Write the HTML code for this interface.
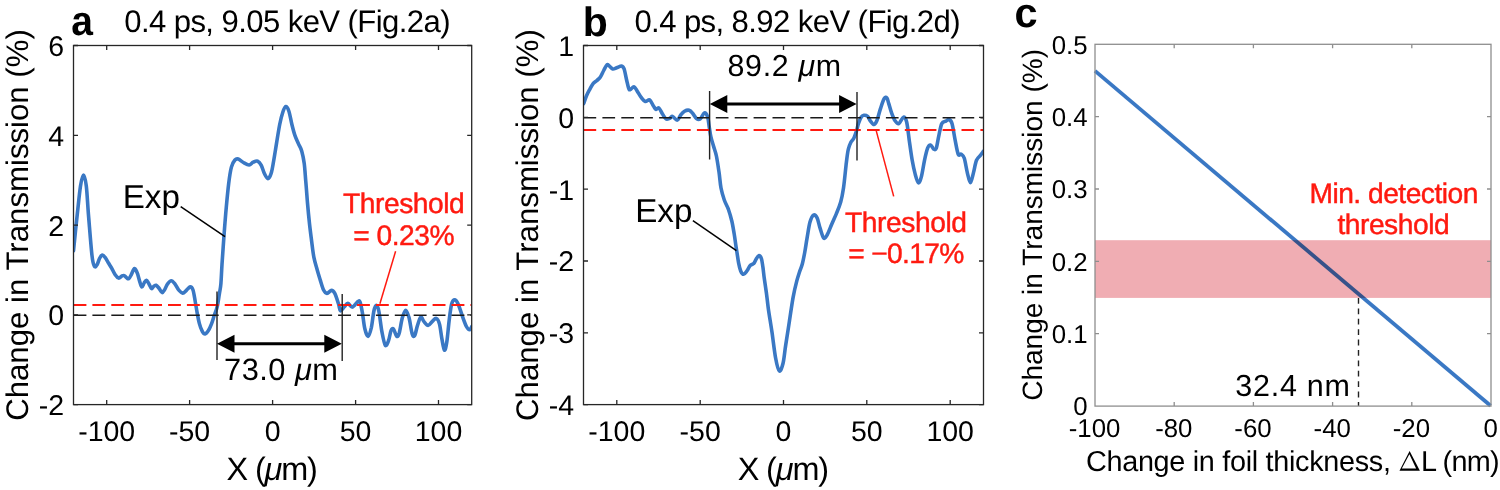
<!DOCTYPE html>
<html><head><meta charset="utf-8"><style>
html,body{margin:0;padding:0;background:#fff;width:1500px;height:490px;overflow:hidden}
svg{display:block;filter:blur(0.4px)}
text{font-family:"Liberation Sans",sans-serif;text-rendering:geometricPrecision}
</style></head><body>
<svg width="1500" height="490" viewBox="0 0 1500 490" font-family='&quot;Liberation Sans&quot;, sans-serif'><clipPath id="ca"><rect x="73.5" y="45.5" width="398.2" height="359.1"/></clipPath><g clip-path="url(#ca)"><path d="M73.5,250.7 C74.1,244.6 76.1,224.8 77.3,214.0 C78.5,203.2 79.5,192.5 80.5,186.0 C81.5,179.5 82.5,175.0 83.5,175.0 C84.5,175.0 85.5,179.5 86.3,186.0 C87.1,192.5 87.5,202.4 88.4,214.0 C89.4,225.6 91.0,246.9 92.0,255.6 C93.0,264.3 93.6,264.8 94.5,266.3 C95.4,267.8 96.4,265.8 97.2,264.5 C98.0,263.2 98.7,260.1 99.5,258.5 C100.3,256.9 101.4,255.3 102.3,255.1 C103.2,254.9 104.1,256.1 105.1,257.4 C106.1,258.7 107.4,261.1 108.5,263.0 C109.6,264.9 110.8,266.6 111.9,268.6 C113.0,270.6 114.1,273.2 115.2,274.8 C116.3,276.4 117.5,277.9 118.6,278.1 C119.7,278.3 121.1,276.3 122.0,275.9 C122.9,275.5 123.5,275.3 124.2,275.6 C125.0,275.9 125.8,277.1 126.5,277.6 C127.2,278.1 127.9,279.1 128.7,278.7 C129.4,278.3 130.2,276.9 131.0,275.3 C131.8,273.7 133.1,270.2 133.8,269.2 C134.5,268.2 134.8,268.4 135.4,269.2 C136.1,270.0 136.9,272.0 137.7,274.2 C138.4,276.4 139.2,280.0 139.9,282.1 C140.6,284.2 141.2,286.9 141.9,287.0 C142.6,287.1 143.3,284.1 144.1,283.0 C144.8,281.9 145.6,280.1 146.4,280.2 C147.2,280.3 147.8,282.0 148.7,283.4 C149.5,284.8 150.7,288.0 151.5,288.5 C152.3,289.0 153.0,286.7 153.8,286.2 C154.6,285.7 155.3,285.0 156.1,285.3 C156.9,285.6 157.8,286.8 158.8,288.0 C159.8,289.2 161.1,292.4 162.1,292.6 C163.1,292.8 163.9,290.8 164.8,289.4 C165.7,287.9 166.5,285.3 167.6,283.9 C168.7,282.4 170.1,280.7 171.3,280.7 C172.5,280.7 173.7,282.4 174.9,283.9 C176.1,285.4 177.3,288.4 178.6,289.9 C179.9,291.4 181.4,293.0 182.7,293.1 C184.0,293.2 185.1,291.5 186.3,290.5 C187.5,289.5 189.0,287.0 190.1,286.9 C191.2,286.8 192.2,287.7 193.0,290.0 C193.8,292.3 194.4,296.8 195.1,300.7 C195.8,304.6 196.6,309.8 197.3,313.6 C198.0,317.4 198.6,320.6 199.4,323.6 C200.2,326.6 201.4,329.7 202.3,331.4 C203.2,333.1 204.0,334.2 205.1,334.0 C206.2,333.8 207.6,331.7 208.7,330.0 C209.8,328.3 210.6,326.1 211.6,323.6 C212.6,321.1 213.4,317.9 214.4,315.0 C215.4,312.1 216.5,310.0 217.3,306.4 C218.1,302.8 218.8,297.4 219.4,293.6 C220.0,289.8 220.5,288.5 220.9,283.6 C221.3,278.7 221.5,272.3 222.0,264.3 C222.5,256.3 223.3,245.2 224.0,235.7 C224.7,226.2 225.5,215.7 226.3,207.1 C227.1,198.5 227.8,191.0 228.6,184.3 C229.4,177.6 230.3,171.2 231.4,167.1 C232.5,163.0 233.8,161.3 234.9,160.0 C236.1,158.7 236.9,158.7 238.3,159.1 C239.7,159.5 241.6,161.5 243.4,162.5 C245.2,163.5 247.5,165.1 249.1,165.0 C250.7,164.9 251.8,162.8 253.2,162.2 C254.6,161.6 256.3,160.7 257.7,161.2 C259.1,161.7 260.2,163.2 261.3,165.3 C262.4,167.4 263.3,171.3 264.4,173.5 C265.5,175.7 266.8,178.6 267.9,178.6 C269.0,178.6 270.2,176.4 271.1,173.5 C272.1,170.6 272.7,166.3 273.6,161.2 C274.5,156.1 275.6,149.0 276.6,142.9 C277.6,136.8 278.7,129.6 279.7,124.5 C280.7,119.4 281.8,115.2 282.8,112.2 C283.8,109.2 284.8,106.7 285.8,106.5 C286.8,106.3 287.9,108.2 288.9,111.2 C289.9,114.2 290.9,120.4 291.9,124.5 C292.9,128.6 293.9,132.5 295.0,135.7 C296.1,138.9 297.4,141.3 298.5,143.9 C299.6,146.5 300.8,147.8 301.7,151.0 C302.6,154.2 303.5,158.2 304.2,163.3 C304.9,168.4 305.2,175.0 305.8,181.6 C306.4,188.2 306.9,196.0 307.5,203.0 C308.1,210.0 308.8,217.2 309.5,223.7 C310.2,230.1 311.0,236.1 311.7,241.7 C312.4,247.3 313.0,252.9 313.9,257.4 C314.8,261.9 315.8,264.9 316.9,268.7 C317.9,272.4 319.1,276.3 320.2,279.9 C321.3,283.4 322.5,287.8 323.6,290.0 C324.7,292.2 325.7,293.3 327.0,293.4 C328.3,293.5 330.2,290.4 331.5,290.4 C332.8,290.4 333.6,291.1 334.8,293.4 C336.0,295.7 337.7,301.4 338.6,304.3 C339.5,307.2 339.5,310.3 340.4,310.8 C341.3,311.3 342.9,308.3 344.1,307.1 C345.3,305.9 346.4,303.4 347.8,303.4 C349.2,303.4 350.7,307.4 352.4,307.1 C354.1,306.8 356.6,302.5 357.9,301.6 C359.2,300.8 359.2,300.1 360.0,302.0 C360.8,303.9 361.6,308.2 362.4,312.7 C363.2,317.2 363.9,325.1 364.9,329.0 C365.9,332.9 367.1,336.6 368.2,336.3 C369.3,336.0 370.4,331.5 371.4,327.3 C372.3,323.1 373.1,314.7 373.9,311.0 C374.7,307.3 375.5,305.3 376.3,305.3 C377.1,305.3 377.9,306.5 378.8,311.0 C379.8,315.5 380.9,326.5 382.0,332.2 C383.1,337.9 384.2,343.9 385.3,345.3 C386.4,346.7 387.7,342.8 388.6,340.4 C389.6,337.9 390.2,332.5 391.0,330.6 C391.8,328.7 392.6,328.1 393.5,329.0 C394.4,329.9 395.8,335.6 396.7,336.3 C397.6,337.0 398.2,336.2 399.2,333.1 C400.1,330.0 401.3,321.4 402.4,317.6 C403.5,313.8 404.6,310.2 405.7,310.2 C406.8,310.2 407.9,313.7 409.0,317.6 C410.1,321.6 411.2,330.9 412.2,333.9 C413.1,336.9 413.8,336.9 414.7,335.5 C415.6,334.1 416.4,328.8 417.4,325.7 C418.4,322.6 419.6,317.9 420.7,317.2 C421.8,316.5 422.8,320.2 424.0,321.6 C425.2,323.0 426.8,325.4 428.1,325.4 C429.5,325.4 430.8,322.8 432.1,321.6 C433.5,320.4 435.0,318.0 436.2,318.4 C437.4,318.8 438.6,320.7 439.5,324.1 C440.4,327.5 441.1,334.5 441.9,338.8 C442.7,343.1 443.6,349.7 444.4,350.2 C445.2,350.7 446.0,347.2 446.8,342.0 C447.6,336.8 448.5,325.6 449.3,319.2 C450.1,312.8 450.8,306.9 451.7,303.7 C452.6,300.5 453.9,299.8 455.0,299.9 C456.1,300.0 457.1,301.8 458.3,304.5 C459.5,307.2 461.0,312.2 462.3,315.9 C463.6,319.6 465.2,324.2 466.4,326.5 C467.6,328.8 468.8,329.8 469.7,329.8 C470.6,329.8 471.4,327.1 471.8,326.5" fill="none" stroke="#3a78c4" stroke-width="3.6" stroke-linejoin="round" stroke-linecap="round"/><line x1="73.5" x2="471.7" y1="315.2" y2="315.2" stroke="#1a1a1a" stroke-width="1.5" stroke-dasharray="12.9 6"/><line x1="73.5" x2="471.7" y1="305.0" y2="305.0" stroke="#ff1a10" stroke-width="1.8" stroke-dasharray="12.9 6"/></g><rect x="73.5" y="45.5" width="398.2" height="359.1" fill="none" stroke="#262626" stroke-width="1.30"/><path d="M106.7,404.6v-4.5M106.7,45.5v4.5M189.6,404.6v-4.5M189.6,45.5v4.5M272.6,404.6v-4.5M272.6,45.5v4.5M355.6,404.6v-4.5M355.6,45.5v4.5M438.5,404.6v-4.5M438.5,45.5v4.5M73.5,45.5h4.5M471.7,45.5h-4.5M73.5,135.3h4.5M471.7,135.3h-4.5M73.5,225.1h4.5M471.7,225.1h-4.5M73.5,314.8h4.5M471.7,314.8h-4.5M73.5,404.6h4.5M471.7,404.6h-4.5" stroke="#262626" stroke-width="1.30" fill="none"/><text x="106.7" y="440.8" font-size="28.5" text-anchor="middle" fill="#000" font-weight="normal" >-100</text><text x="189.6" y="440.8" font-size="28.5" text-anchor="middle" fill="#000" font-weight="normal" >-50</text><text x="272.6" y="440.8" font-size="28.5" text-anchor="middle" fill="#000" font-weight="normal" >0</text><text x="355.6" y="440.8" font-size="28.5" text-anchor="middle" fill="#000" font-weight="normal" >50</text><text x="438.5" y="440.8" font-size="28.5" text-anchor="middle" fill="#000" font-weight="normal" >100</text><text x="64.2" y="55.9" font-size="28.5" text-anchor="end" fill="#000" font-weight="normal" >6</text><text x="64.2" y="145.7" font-size="28.5" text-anchor="end" fill="#000" font-weight="normal" >4</text><text x="64.2" y="235.5" font-size="28.5" text-anchor="end" fill="#000" font-weight="normal" >2</text><text x="64.2" y="325.2" font-size="28.5" text-anchor="end" fill="#000" font-weight="normal" >0</text><text x="64.2" y="415.0" font-size="28.5" text-anchor="end" fill="#000" font-weight="normal" >-2</text><text x="272.2" y="480.2" font-size="32.4" text-anchor="middle" fill="#000" font-weight="normal"  textLength="91.2" lengthAdjust="spacing">X (<tspan font-style="italic">μ</tspan>m)</text><text x="0.0" y="0.0" font-size="31.2" text-anchor="middle" fill="#000" font-weight="normal" transform="translate(27.8,225) rotate(-90)">Change in Transmission (%)</text><text x="82.1" y="34.5" font-size="41.5" text-anchor="middle" fill="#000" font-weight="bold" transform="translate(82.1,0) scale(0.94,1) translate(-82.1,0)">a</text><text x="287.4" y="31.6" font-size="31.1" text-anchor="middle" fill="#000" font-weight="normal"  textLength="326.4" lengthAdjust="spacing">0.4 ps, 9.05 keV (Fig.2a)</text><text x="151.3" y="207.9" font-size="33.2" text-anchor="middle" fill="#000" font-weight="normal" >Exp</text><line x1="180.7" y1="206.7" x2="225" y2="236.7" stroke="#000" stroke-width="1.5"/><text x="403.9" y="212.6" font-size="28.2" text-anchor="middle" fill="#ff1a10" font-weight="normal"  textLength="121.8" lengthAdjust="spacing" stroke="#ff1a10" stroke-width="0.45">Threshold</text><text x="403.9" y="244.6" font-size="28.2" text-anchor="middle" fill="#ff1a10" font-weight="normal"  textLength="101.3" lengthAdjust="spacing" stroke="#ff1a10" stroke-width="0.45">= 0.23%</text><line x1="395.6" y1="251.3" x2="379.9" y2="303.7" stroke="#ff1a10" stroke-width="1.5"/><line x1="217" y1="291.6" x2="217" y2="360" stroke="#222" stroke-width="1.4"/><line x1="342.2" y1="294" x2="342.2" y2="361" stroke="#222" stroke-width="1.4"/><line x1="232.5" y1="343.7" x2="326.3" y2="343.7" stroke="#000" stroke-width="3"/><path d="M217.0,343.7L234.5,334.7L234.5,352.7ZM341.8,343.7L324.3,334.7L324.3,352.7Z" fill="#000"/><text x="281.0" y="379.8" font-size="30.8" text-anchor="middle" fill="#000" font-weight="normal"  textLength="114.0" lengthAdjust="spacing">73.0 <tspan font-style="italic">μ</tspan>m</text><clipPath id="cb"><rect x="583.5" y="45.5" width="400.0" height="359.1"/></clipPath><g clip-path="url(#cb)"><path d="M583.6,103.7 C584.1,102.4 585.5,98.2 586.5,95.8 C587.5,93.4 588.7,91.3 589.8,89.3 C590.9,87.3 591.9,85.1 593.1,83.6 C594.3,82.1 595.9,81.4 597.1,80.3 C598.3,79.2 599.3,78.6 600.4,77.0 C601.5,75.4 602.6,72.5 603.7,70.5 C604.8,68.5 606.0,65.5 606.9,64.8 C607.8,64.1 608.4,65.4 609.4,66.1 C610.4,66.8 611.5,68.6 612.7,68.9 C613.9,69.2 615.2,68.2 616.7,67.7 C618.2,67.2 620.4,65.9 621.6,66.1 C622.8,66.3 623.3,66.7 624.1,68.9 C624.9,71.1 625.7,76.2 626.5,79.5 C627.3,82.8 628.1,86.8 628.7,88.5 C629.3,90.2 629.4,89.9 630.3,89.6 C631.2,89.3 632.8,86.6 633.9,86.8 C635.0,87.0 635.9,89.1 637.1,90.9 C638.3,92.7 639.8,95.6 641.2,97.4 C642.6,99.2 643.9,101.1 645.3,101.5 C646.7,101.9 648.3,99.2 649.6,99.9 C650.9,100.6 652.2,104.1 653.3,105.7 C654.4,107.3 655.1,109.0 656.0,109.4 C656.9,109.8 657.7,107.1 658.8,107.9 C659.9,108.7 661.3,112.2 662.5,114.0 C663.7,115.8 664.9,118.3 666.1,119.0 C667.3,119.7 668.7,118.6 669.8,118.2 C670.9,117.8 671.4,116.1 672.6,116.4 C673.8,116.7 675.8,120.3 677.2,120.1 C678.6,119.8 679.6,116.4 680.8,114.9 C682.0,113.4 683.1,112.1 684.5,111.3 C685.9,110.5 687.7,109.9 689.1,110.3 C690.5,110.7 691.6,112.1 692.8,113.5 C694.0,114.9 695.3,117.7 696.5,118.6 C697.7,119.5 698.8,119.9 700.1,119.0 C701.4,118.1 703.1,113.4 704.3,113.0 C705.5,112.6 706.6,114.0 707.5,116.5 C708.4,119.0 708.8,124.6 709.4,128.0 C710.0,131.4 710.2,134.0 710.9,137.0 C711.6,140.0 712.6,142.8 713.5,146.0 C714.4,149.2 715.5,151.7 716.4,156.0 C717.3,160.3 718.2,166.7 719.0,172.0 C719.8,177.3 720.1,183.3 721.0,188.0 C721.9,192.7 723.1,196.5 724.3,200.0 C725.5,203.5 727.0,205.5 728.3,209.0 C729.5,212.5 730.8,216.8 731.8,221.0 C732.8,225.2 733.5,230.0 734.2,234.0 C734.9,238.0 735.3,242.0 735.8,245.0 C736.2,248.0 736.4,249.0 736.9,252.0 C737.4,255.0 738.0,259.7 738.6,262.9 C739.2,266.1 739.9,269.1 740.7,271.0 C741.5,272.9 742.5,274.4 743.6,274.3 C744.7,274.2 746.0,272.1 747.1,270.7 C748.2,269.3 748.9,266.9 750.0,265.7 C751.1,264.5 752.6,264.6 753.6,263.6 C754.6,262.7 754.9,261.3 755.7,260.0 C756.5,258.7 757.7,255.9 758.6,255.7 C759.5,255.5 760.7,256.7 761.4,258.6 C762.1,260.5 762.4,263.8 762.9,267.1 C763.4,270.4 763.7,274.3 764.3,278.6 C764.9,282.9 765.7,287.9 766.4,292.9 C767.1,297.9 767.4,301.8 768.3,308.4 C769.2,315.0 770.8,324.0 772.0,332.3 C773.2,340.6 774.4,351.6 775.6,358.0 C776.8,364.4 778.1,370.0 779.3,370.9 C780.5,371.8 781.9,367.8 783.0,363.5 C784.1,359.2 784.6,352.1 785.7,345.1 C786.8,338.1 788.2,329.2 789.4,321.3 C790.6,313.4 791.9,304.1 793.1,297.4 C794.3,290.7 795.7,285.1 796.8,280.9 C797.9,276.7 798.6,274.8 799.5,272.0 C800.4,269.2 801.4,267.3 802.3,264.0 C803.2,260.7 804.0,256.4 804.8,252.0 C805.6,247.7 806.2,242.9 807.1,237.9 C808.0,232.9 808.9,225.9 810.0,222.1 C811.1,218.3 812.4,215.7 813.6,215.0 C814.8,214.3 816.0,215.8 817.1,217.9 C818.2,220.1 818.9,224.6 820.0,227.9 C821.1,231.2 822.4,236.7 823.6,237.9 C824.8,239.1 825.8,237.2 827.1,235.0 C828.4,232.8 829.9,228.6 831.4,225.0 C832.9,221.4 834.8,217.4 836.4,213.6 C838.0,209.8 839.5,206.4 840.7,202.1 C841.9,197.8 842.5,194.7 843.5,188.0 C844.5,181.3 845.6,168.6 846.4,162.2 C847.2,155.8 847.5,152.7 848.3,149.3 C849.1,145.9 850.1,143.8 851.0,142.0 C851.9,140.2 852.9,140.1 853.8,138.3 C854.7,136.5 855.7,133.4 856.5,131.0 C857.3,128.6 857.6,125.9 858.4,123.6 C859.2,121.3 860.2,118.6 861.1,117.2 C862.0,115.8 862.8,115.5 863.9,115.3 C865.0,115.1 866.5,115.4 867.6,116.3 C868.7,117.2 869.2,119.4 870.3,120.8 C871.4,122.2 872.9,124.5 874.0,124.5 C875.1,124.5 875.7,123.4 876.8,120.8 C877.9,118.2 879.2,112.6 880.4,108.9 C881.6,105.2 883.0,100.6 884.1,98.8 C885.2,97.0 886.1,97.1 886.9,97.9 C887.7,98.7 887.9,101.0 888.7,103.4 C889.5,105.9 890.4,109.7 891.5,112.6 C892.6,115.5 893.9,119.0 895.1,120.8 C896.3,122.6 897.4,124.2 898.8,123.6 C900.2,123.0 902.1,117.5 903.4,117.2 C904.7,116.9 905.6,118.0 906.6,121.8 C907.6,125.6 908.3,133.5 909.2,139.9 C910.1,146.3 911.2,154.5 912.2,160.3 C913.2,166.1 914.3,170.8 915.3,174.6 C916.3,178.3 917.4,182.5 918.4,182.8 C919.4,183.1 920.4,180.3 921.4,176.6 C922.4,172.8 923.5,165.1 924.5,160.3 C925.5,155.6 926.6,150.7 927.6,148.1 C928.6,145.5 929.6,144.8 930.6,145.0 C931.6,145.2 932.8,148.6 933.7,149.1 C934.7,149.6 935.4,150.3 936.3,148.1 C937.1,145.9 937.9,139.9 938.8,135.8 C939.7,131.7 940.6,126.0 941.8,123.6 C943.0,121.1 944.7,121.8 945.9,121.1 C947.1,120.4 948.0,119.1 949.0,119.5 C950.0,119.9 951.0,120.2 952.0,123.6 C953.0,127.0 954.1,134.8 955.1,139.9 C956.1,145.0 957.2,151.8 958.2,154.2 C959.2,156.6 960.2,153.5 961.2,154.2 C962.2,154.9 963.3,155.2 964.3,158.3 C965.3,161.4 966.3,168.5 967.3,172.6 C968.3,176.7 969.4,182.8 970.4,182.8 C971.4,182.8 972.5,176.3 973.5,172.6 C974.5,168.8 975.3,163.2 976.5,160.3 C977.7,157.4 979.4,156.7 980.6,155.2 C981.8,153.7 983.0,151.8 983.5,151.1" fill="none" stroke="#3a78c4" stroke-width="3.6" stroke-linejoin="round" stroke-linecap="round"/><line x1="583.5" x2="983.5" y1="117.8" y2="117.8" stroke="#1a1a1a" stroke-width="1.5" stroke-dasharray="12.7 6.2"/><line x1="583.5" x2="983.5" y1="130.0" y2="130.0" stroke="#ff1a10" stroke-width="1.8" stroke-dasharray="12.7 6.2"/></g><rect x="583.5" y="45.5" width="400.0" height="359.1" fill="none" stroke="#262626" stroke-width="1.30"/><path d="M616.8,404.6v-4.5M616.8,45.5v4.5M700.2,404.6v-4.5M700.2,45.5v4.5M783.5,404.6v-4.5M783.5,45.5v4.5M866.8,404.6v-4.5M866.8,45.5v4.5M950.2,404.6v-4.5M950.2,45.5v4.5M583.5,45.5h4.5M983.5,45.5h-4.5M583.5,117.3h4.5M983.5,117.3h-4.5M583.5,189.1h4.5M983.5,189.1h-4.5M583.5,261.0h4.5M983.5,261.0h-4.5M583.5,332.8h4.5M983.5,332.8h-4.5M583.5,404.6h4.5M983.5,404.6h-4.5" stroke="#262626" stroke-width="1.30" fill="none"/><text x="616.8" y="440.8" font-size="28.5" text-anchor="middle" fill="#000" font-weight="normal" >-100</text><text x="700.2" y="440.8" font-size="28.5" text-anchor="middle" fill="#000" font-weight="normal" >-50</text><text x="783.5" y="440.8" font-size="28.5" text-anchor="middle" fill="#000" font-weight="normal" >0</text><text x="866.8" y="440.8" font-size="28.5" text-anchor="middle" fill="#000" font-weight="normal" >50</text><text x="950.2" y="440.8" font-size="28.5" text-anchor="middle" fill="#000" font-weight="normal" >100</text><text x="574.0" y="55.9" font-size="28.5" text-anchor="end" fill="#000" font-weight="normal" >1</text><text x="574.0" y="127.7" font-size="28.5" text-anchor="end" fill="#000" font-weight="normal" >0</text><text x="574.0" y="199.5" font-size="28.5" text-anchor="end" fill="#000" font-weight="normal" >-1</text><text x="574.0" y="271.4" font-size="28.5" text-anchor="end" fill="#000" font-weight="normal" >-2</text><text x="574.0" y="343.2" font-size="28.5" text-anchor="end" fill="#000" font-weight="normal" >-3</text><text x="574.0" y="415.0" font-size="28.5" text-anchor="end" fill="#000" font-weight="normal" >-4</text><text x="783.4" y="480.2" font-size="32.4" text-anchor="middle" fill="#000" font-weight="normal"  textLength="91.4" lengthAdjust="spacing">X (<tspan font-style="italic">μ</tspan>m)</text><text x="0.0" y="0.0" font-size="31.2" text-anchor="middle" fill="#000" font-weight="normal" transform="translate(537.7,225.1) rotate(-90)">Change in Transmission (%)</text><text x="595.2" y="35.6" font-size="41.0" text-anchor="middle" fill="#000" font-weight="bold" >b</text><text x="797.5" y="31.6" font-size="31.1" text-anchor="middle" fill="#000" font-weight="normal"  textLength="326.2" lengthAdjust="spacing">0.4 ps, 8.92 keV (Fig.2d)</text><text x="663.8" y="221.7" font-size="33.2" text-anchor="middle" fill="#000" font-weight="normal" >Exp</text><line x1="692.9" y1="220.7" x2="736.4" y2="250.7" stroke="#000" stroke-width="1.5"/><text x="906.0" y="231.7" font-size="28.2" text-anchor="middle" fill="#ff1a10" font-weight="normal"  textLength="121.8" lengthAdjust="spacing" stroke="#ff1a10" stroke-width="0.45">Threshold</text><text x="906.2" y="262.9" font-size="28.2" text-anchor="middle" fill="#ff1a10" font-weight="normal"  textLength="116.1" lengthAdjust="spacing" stroke="#ff1a10" stroke-width="0.45">= −0.17%</text><line x1="875.8" y1="129.1" x2="893.7" y2="196.4" stroke="#ff1a10" stroke-width="1.5"/><line x1="709.6" y1="91" x2="709.6" y2="159.5" stroke="#222" stroke-width="1.4"/><line x1="857" y1="92" x2="857" y2="160.5" stroke="#222" stroke-width="1.4"/><line x1="725.3" y1="104.0" x2="841.1" y2="104.0" stroke="#000" stroke-width="3"/><path d="M709.8,104.0L727.3,95.0L727.3,113.0ZM856.6,104.0L839.1,95.0L839.1,113.0Z" fill="#000"/><text x="784.3" y="76.4" font-size="30.4" text-anchor="middle" fill="#000" font-weight="normal"  textLength="113.5" lengthAdjust="spacing">89.2 <tspan font-style="italic">μ</tspan>m</text><line x1="1095.0" y1="70.9" x2="1490.6" y2="405.7" stroke="#3a78c4" stroke-width="3.8" stroke-linecap="butt"/><rect x="1095.0" y="240.2" width="396.0" height="57.7" fill="#f0adb3" style="mix-blend-mode:multiply"/><line x1="1358.5" y1="298" x2="1358.5" y2="406" stroke="#222" stroke-width="1.4" stroke-dasharray="5.8 4.6"/><rect x="1095.0" y="44.3" width="396.0" height="361.8" fill="none" stroke="#8e8e8e" stroke-width="1.30"/><path d="M1174.2,406.1v-4.0M1174.2,44.3v4.0M1253.4,406.1v-4.0M1253.4,44.3v4.0M1332.6,406.1v-4.0M1332.6,44.3v4.0M1411.8,406.1v-4.0M1411.8,44.3v4.0M1095.0,333.7h4.0M1491.0,333.7h-4.0M1095.0,261.4h4.0M1491.0,261.4h-4.0M1095.0,189.0h4.0M1491.0,189.0h-4.0M1095.0,116.7h4.0M1491.0,116.7h-4.0" stroke="#8e8e8e" stroke-width="1.30" fill="none"/><text x="1094.6" y="437.4" font-size="25.8" text-anchor="middle" fill="#000" font-weight="normal" >-100</text><text x="1173.8" y="437.4" font-size="25.8" text-anchor="middle" fill="#000" font-weight="normal" >-80</text><text x="1253.0" y="437.4" font-size="25.8" text-anchor="middle" fill="#000" font-weight="normal" >-60</text><text x="1332.2" y="437.4" font-size="25.8" text-anchor="middle" fill="#000" font-weight="normal" >-40</text><text x="1411.4" y="437.4" font-size="25.8" text-anchor="middle" fill="#000" font-weight="normal" >-20</text><text x="1490.6" y="437.4" font-size="25.8" text-anchor="middle" fill="#000" font-weight="normal" >0</text><text x="1087.6" y="415.4" font-size="25.8" text-anchor="end" fill="#000" font-weight="normal" >0</text><text x="1087.6" y="343.0" font-size="25.8" text-anchor="end" fill="#000" font-weight="normal" >0.1</text><text x="1087.6" y="270.7" font-size="25.8" text-anchor="end" fill="#000" font-weight="normal" >0.2</text><text x="1087.6" y="198.3" font-size="25.8" text-anchor="end" fill="#000" font-weight="normal" >0.3</text><text x="1087.6" y="126.0" font-size="25.8" text-anchor="end" fill="#000" font-weight="normal" >0.4</text><text x="1087.6" y="53.6" font-size="25.8" text-anchor="end" fill="#000" font-weight="normal" >0.5</text><text x="1086.0" y="471.2" font-size="28.8" text-anchor="start" fill="#000" font-weight="normal"  textLength="304.9" lengthAdjust="spacing">Change in foil thickness,</text><path d="M1409.6,451L1399.5,470.7L1419.9,470.7ZM1409.4,454.2L1401.8,468.5L1416.1,468.5Z" fill="#000" fill-rule="evenodd"/><text x="1421.1" y="471.2" font-size="28.8" text-anchor="start" fill="#000" font-weight="normal"  textLength="78.5" lengthAdjust="spacing">L (nm)</text><text x="0.0" y="0.0" font-size="28.0" text-anchor="middle" fill="#000" font-weight="normal" transform="translate(1041.6,224.9) rotate(-90)">Change in Transmission (%)</text><text x="1026.0" y="26.7" font-size="41.5" text-anchor="middle" fill="#000" font-weight="bold" >c</text><text x="1393.9" y="202.9" font-size="28.2" text-anchor="middle" fill="#ff1a10" font-weight="normal"  textLength="169.0" lengthAdjust="spacing" stroke="#ff1a10" stroke-width="0.45">Min. detection</text><text x="1393.5" y="234.0" font-size="28.2" text-anchor="middle" fill="#ff1a10" font-weight="normal"  textLength="112.2" lengthAdjust="spacing" stroke="#ff1a10" stroke-width="0.45">threshold</text><text x="1292.6" y="396.3" font-size="30.5" text-anchor="middle" fill="#000" font-weight="normal"  textLength="114.6" lengthAdjust="spacing">32.4 nm</text></svg>
</body></html>
